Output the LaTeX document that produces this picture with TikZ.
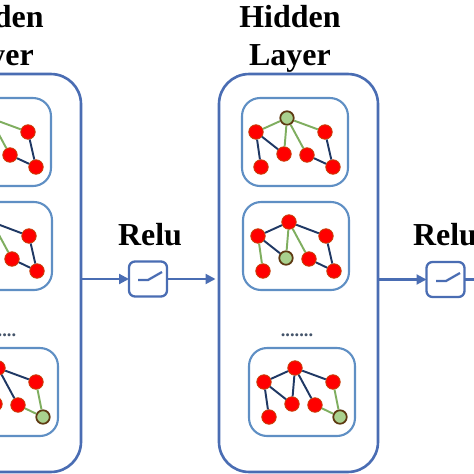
\documentclass[tikz,border=0pt]{standalone}
\usepackage{fontspec}
\setmainfont{Liberation Serif}
\usetikzlibrary{arrows.meta}
\definecolor{layerblue}{HTML}{4A6DB3}
\definecolor{panelblue}{HTML}{5F8FC4}
\definecolor{navyedge}{HTML}{1F3864}
\definecolor{greenedge}{HTML}{7FAE5F}
\definecolor{greenvtx}{HTML}{A9D18E}
\definecolor{brownrim}{HTML}{5E3A12}
\definecolor{redrim}{HTML}{C8400A}
\definecolor{dotgray}{HTML}{44546A}
\tikzset{vtx/.style={circle,fill=red,draw=redrim,minimum size=0.29cm,inner sep=0pt,line width=0.5pt},
  gvtx/.style={circle,fill=greenvtx,draw=brownrim,minimum size=0.27cm,inner sep=0pt,line width=1pt},
  layerbox/.style={draw=layerblue,rounded corners=0.6cm,line width=1.5pt,minimum width=3.18cm,minimum height=7.96cm,outer sep=0pt},
  panel/.style={draw=panelblue,fill=white,rounded corners=0.36cm,line width=1.2pt,minimum width=2.12cm,minimum height=1.76cm},
  relubox/.style={draw=layerblue,fill=white,rounded corners=0.12cm,line width=1.3pt,minimum width=0.76cm,minimum height=0.7cm,outer sep=0pt},
  nedge/.style={navyedge,line width=1.1pt},
  gedge/.style={greenedge,line width=1.1pt},
  flow/.style={layerblue,line width=1.2pt,-{Triangle[length=0.2cm,width=0.2cm]}},
  switch/.style={layerblue,line width=1.3pt},
  title/.style={font=\fontsize{18.2}{20}\selectfont\bfseries,anchor=base,inner sep=0pt}
}

\begin{document}
\begin{tikzpicture}[x=0.02cm,y=-0.02cm]
        \useasboundingbox (0,0) rectangle (474,474);
        \clip (0,0) rectangle (474,474);

        \foreach \s/\n in {-297/L,0/M}{
        \begin{scope}[shift={(\s,0)}]
        \node[title] (hid\n) at (290,27) {Hidden};
        \node[title] (lay\n) at (290,65) {Layer};
        \node[layerbox] (box\n) at (298.5,273) {};

        \node[panel] (pa\n) at (295,142) {};
        \node[gvtx] (a1\n) at (287,118) {};
        \node[vtx] (a2\n) at (256,132) {};
        \node[vtx] (a3\n) at (325,132) {};
        \node[vtx] (a4\n) at (284,154) {};
        \node[vtx] (a5\n) at (307,155) {};
        \node[vtx] (a6\n) at (261,167) {};
        \node[vtx] (a7\n) at (333,167) {};
        \draw[gedge] (a1\n) -- (a2\n);
        \draw[gedge] (a1\n) -- (a3\n);
        \draw[gedge] (a1\n) -- (a4\n);
        \draw[gedge] (a1\n) -- (a5\n);
        \draw[nedge] (a2\n) -- (a6\n);
        \draw[nedge] (a2\n) -- (a4\n);
        \draw[nedge] (a3\n) -- (a7\n);
        \draw[nedge] (a5\n) -- (a7\n);

        \node[panel] (pb\n) at (296,246) {};
        \node[vtx] (b1\n) at (289,222) {};
        \node[vtx] (b2\n) at (258,236) {};
        \node[vtx] (b3\n) at (326,236) {};
        \node[gvtx] (b4\n) at (286,258) {};
        \node[vtx] (b5\n) at (309,259) {};
        \node[vtx] (b6\n) at (263,271) {};
        \node[vtx] (b7\n) at (334,271) {};
        \draw[nedge] (b1\n) -- (b2\n);
        \draw[nedge] (b1\n) -- (b3\n);
        \draw[gedge] (b1\n) -- (b4\n);
        \draw[gedge] (b1\n) -- (b5\n);
        \draw[gedge] (b2\n) -- (b6\n);
        \draw[nedge] (b2\n) -- (b4\n);
        \draw[nedge] (b3\n) -- (b7\n);
        \draw[nedge] (b5\n) -- (b7\n);

        \node[font=\bfseries\fontsize{10.5}{12}\selectfont,text=dotgray,inner sep=0pt] (dots\n) at (297,335) {.......};

        \node[panel] (pc\n) at (302,392) {};
        \node[vtx] (c1\n) at (295,368) {};
        \node[vtx] (c2\n) at (264,382) {};
        \node[vtx] (c3\n) at (333,382) {};
        \node[vtx] (c4\n) at (292,404) {};
        \node[vtx] (c5\n) at (315,405) {};
        \node[vtx] (c6\n) at (269,417) {};
        \node[gvtx] (c7\n) at (340,417) {};
        \draw[nedge] (c1\n) -- (c2\n);
        \draw[nedge] (c1\n) -- (c3\n);
        \draw[nedge] (c1\n) -- (c4\n);
        \draw[nedge] (c1\n) -- (c5\n);
        \draw[nedge] (c2\n) -- (c6\n);
        \draw[nedge] (c2\n) -- (c4\n);
        \draw[gedge] (c3\n) -- (c7\n);
        \draw[gedge] (c5\n) -- (c7\n);
        \end{scope}
        }

        \node[relubox] (sw1) at (148,279) {};
        \node[relubox] (sw2) at (445.5,279.5) {};
        \node[title] (rl1) at (150,245) {Relu};
        \node[title] (rl2) at (445,245) {Relu};
        \coordinate (e1) at (138,280);
        \coordinate (e2) at (148,280);
        \coordinate (e3) at (162,272);
        \coordinate (f1) at (436,281);
        \coordinate (f2) at (446,281);
        \coordinate (f3) at (460,273);
        \draw[switch] (e1) -- (e2) -- (e3);
        \draw[switch] (f1) -- (f2) -- (f3);
        \coordinate (out) at (474,279.5);

        \draw[flow] (boxL.east |- sw1.west) -- (sw1.west);
        \draw[flow,shorten >=2pt] (sw1.east) -- (boxM.west |- sw1.east);
        \draw[flow] (boxM.east |- sw2.west) -- (sw2.west);
        \draw[layerblue,line width=1.2pt] (sw2.east) -- (out);
\end{tikzpicture}
\end{document}
